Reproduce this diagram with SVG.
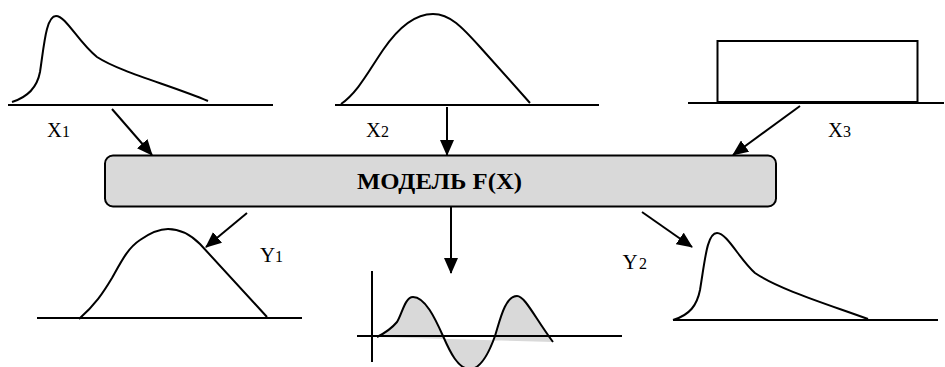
<svg xmlns="http://www.w3.org/2000/svg" width="945" height="367" viewBox="0 0 945 367">
<style>
.ax{stroke:#000;stroke-width:2;fill:none}
.cv{stroke:#000;stroke-width:2;fill:none;stroke-linejoin:round}
.con{stroke:#000;stroke-width:2;fill:none}
.lbl{font-family:"Liberation Serif","DejaVu Serif",serif;font-size:20.5px;fill:#000}
.ylbl{font-size:21px}
.sub{font-size:16px}
.title{font-family:"Liberation Serif","DejaVu Serif",serif;font-size:23px;font-weight:bold;fill:#000}
</style>
<defs>
<marker id="ah" markerUnits="userSpaceOnUse" markerWidth="16" markerHeight="14" refX="15" refY="7" orient="auto">
<path d="M0,0 L16,7 L0,14 Z" fill="#000"/>
</marker>
</defs>
<rect width="945" height="367" fill="#fff"/>
<g id="x1">
<line class="ax" x1="8" y1="105" x2="273" y2="105"/>
<path class="cv" d="M12,102 C28,97 37,88 40,72 C44,46 46,16 56,16 C66,16 78,42 97,57 C120,72 170,85 208,101"/>
<text class="lbl" x="47" y="136.5">X<tspan class="sub" x="62">1</tspan></text>
</g>
<g id="x2">
<line class="ax" x1="335" y1="105" x2="599" y2="105"/>
<path class="cv" d="M341,104 C358,92 368,72 383,50 C398,28 415,14 433,14 C450,14 462,27 480,47 L530,103"/>
<text class="lbl" x="366" y="136.5">X<tspan class="sub" x="381">2</tspan></text>
</g>
<g id="x3">
<line class="ax" x1="688" y1="103" x2="944" y2="103"/>
<rect x="717.5" y="41" width="200" height="61" fill="#fff" stroke="#000" stroke-width="2"/>
<text class="lbl" x="828" y="137">X<tspan class="sub" x="843">3</tspan></text>
</g>
<g id="model">
<rect x="105" y="155.5" width="671" height="51" rx="8" ry="8" fill="#d9d9d9" stroke="#000" stroke-width="2"/>
<text class="title" x="357" y="189" textLength="165" lengthAdjust="spacingAndGlyphs">МОДЕЛЬ F(X)</text>
</g>
<g id="y1">
<line class="ax" x1="37" y1="318" x2="302" y2="318"/>
<path class="cv" d="M79,319 C95,305 103,293 112,278 C122,260 128,248 140,240 C150,233 158,229 168,229 C180,229 190,234 200,244 L267,317"/>
<text class="lbl ylbl" x="260" y="262">Y<tspan class="sub" x="275">1</tspan></text>
</g>
<g id="y3">
<line class="ax" x1="372" y1="271" x2="372" y2="362"/>
<path d="M377,337 C385,333 392,328 397,322 C402,314 405,297 413,297 C425,297 435,318 443,336 C450,352 458,369 470,369 C482,369 490,350 495,336 C500,320 505,296 517,296 C525,296 535,318 553,342 Z" fill="#d9d9d9" stroke="none"/>
<line class="ax" x1="357" y1="336" x2="622" y2="336"/>
<path class="cv" d="M377,337 C385,333 392,328 397,322 C402,314 405,297 413,297 C425,297 435,318 443,336 C450,352 458,369 470,369 C482,369 490,350 495,336 C500,320 505,296 517,296 C525,296 535,318 553,342"/>
</g>
<g id="y2">
<line class="ax" x1="673" y1="320" x2="938" y2="320"/>
<path class="cv" d="M673,320 C690,315 697,305 700,290 C705,260 707,233 717,233 C727,233 740,260 755,273 C780,290 830,305 868,319"/>
<text class="lbl ylbl" x="622.5" y="269">Y<tspan class="sub" x="639">2</tspan></text>
</g>
<g id="connectors">
<line class="con" x1="112" y1="109" x2="152" y2="155" marker-end="url(#ah)"/>
<line class="con" x1="447" y1="107" x2="447" y2="155" marker-end="url(#ah)"/>
<line class="con" x1="800" y1="106" x2="733" y2="155" marker-end="url(#ah)"/>
<line class="con" x1="247" y1="213" x2="206" y2="247" marker-end="url(#ah)"/>
<line class="con" x1="451" y1="207" x2="451" y2="273" marker-end="url(#ah)"/>
<line class="con" x1="642" y1="212" x2="692" y2="247" marker-end="url(#ah)"/>
</g>
</svg>
